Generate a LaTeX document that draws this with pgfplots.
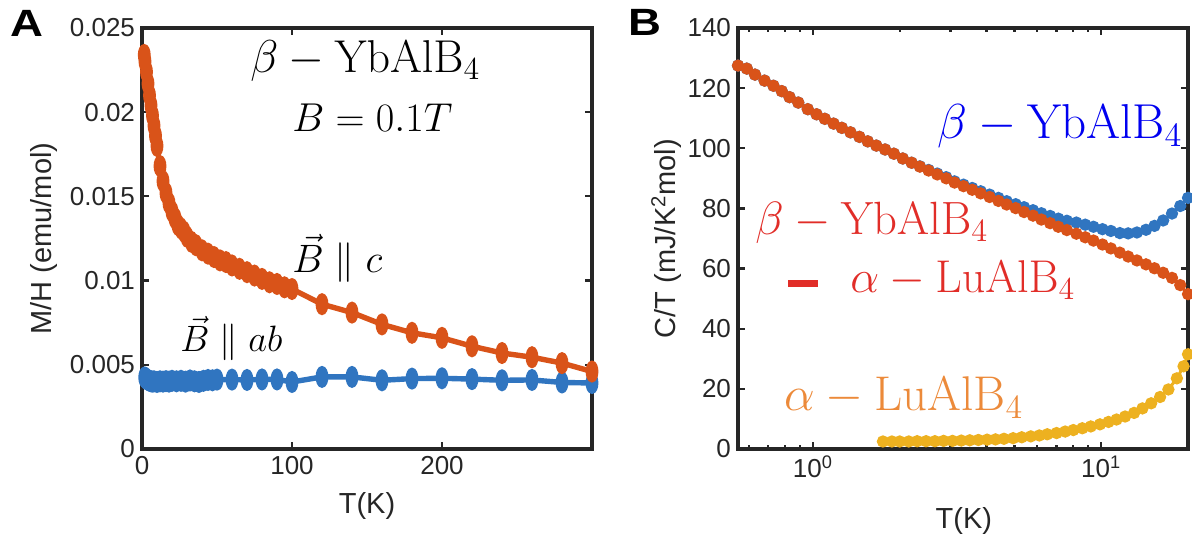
\documentclass[border=0pt]{standalone}
\usepackage[no-math]{fontspec}
\setmainfont{Liberation Sans}
\usepackage{graphicx}
\usepackage{pgfplots}
\pgfplotsset{compat=1.18}

\definecolor{axgray}{RGB}{38,38,38}
\definecolor{mblue}{RGB}{48,117,192}
\definecolor{morange}{RGB}{217,83,25}
\definecolor{myellow}{RGB}{237,177,32}
\definecolor{tblue}{RGB}{0,0,240}
\definecolor{tred}{RGB}{225,45,40}
\definecolor{torange}{RGB}{236,138,58}

\pgfplotsset{
  panel/.style={
    scale only axis, anchor=south west,
    width=225pt, height=210.5pt,
    axis line style={line width=1.8pt, draw=axgray},
    tick align=inside, tick pos=both,
    major tick length=3.5pt, minor tick length=2.2pt,
    every tick/.style={line width=1.1pt, draw=axgray},
    tick label style={font=\fontsize{13}{15}\selectfont, text=axgray},
    label style={font=\fontsize{14.5}{17}\selectfont, text=axgray},
    scaled ticks=false,
  },
  blobline/.style={line width=2.7pt, mark=*, mark size=1.85pt,
    mark options={yscale=2.2, solid}},
  dotline/.style={line width=1.5pt, mark=*, mark size=2.3pt},
}

% math annotation of a given width
\newcommand{\ann}[2]{\resizebox{#1}{!}{\fontsize{20.74}{25}\selectfont$#2$}}

\begin{document}
\begin{tikzpicture}
\useasboundingbox (0pt,0pt) rectangle (596pt,267.5pt);

% ---------- (A) magnetisation ----------
\begin{axis}[panel, at={(71pt,43pt)},
  xmin=0, xmax=300, ymin=0, ymax=0.025,
  xtick={0,100,200}, xticklabels={0,100,200},
  ytick={0,0.005,0.01,0.015,0.02,0.025},
  yticklabels={0,0.005,0.01,0.015,0.02,0.025},
  xlabel={T(K)}, ylabel={M/H (emu/mol)},
  xlabel style={at={(axis description cs:0.5,-0.136)}, anchor=center},
  ylabel style={at={(axis description cs:-0.218,0.5)}, anchor=center},
]
% B || ab
\addplot[blobline, color=mblue] coordinates {
(1.8,0.00425) (2.5,0.00420) (3,0.00415) (4,0.00410) (5,0.00405) (6,0.00402)
(7,0.00400) (8,0.00402) (10,0.00398) (12,0.00402) (14,0.00400) (16,0.00403)
(18,0.00400) (20,0.00405) (23,0.00402) (26,0.00405) (29,0.00400) (32,0.00407)
(35,0.00402) (38,0.00398) (41,0.00405) (44,0.00410) (47,0.00408) (50,0.00412)
(60,0.00412) (70,0.00410) (80,0.00413) (90,0.00413) (100,0.00398)
(120,0.00428) (140,0.00428) (160,0.00408) (180,0.00418) (200,0.00420)
(220,0.00415) (240,0.00408) (260,0.00410) (280,0.00395) (300,0.00392)
};
% B || c
\addplot[blobline, color=morange] coordinates {
(1.5,0.0234) (2,0.0230) (3,0.0224) (4,0.0217) (5,0.0210) (6,0.0204)
(7,0.0198) (8,0.0192) (9,0.0186) (10,0.0180) (12,0.0168) (14,0.0159)
(16,0.0152) (18,0.0146) (20,0.0141) (22,0.0137) (24,0.0133) (26,0.0131)
(28,0.0129) (30,0.0126) (33,0.0123) (36,0.0121) (40,0.0118) (44,0.0116)
(48,0.0114) (52,0.0112) (56,0.0111) (60,0.0109) (65,0.0107) (70,0.0105)
(75,0.0103) (80,0.0101) (85,0.0099) (90,0.0098) (95,0.0096) (100,0.0095)
(120,0.0086) (140,0.0081) (160,0.0074) (180,0.0069) (200,0.0066)
(220,0.0061) (240,0.0057) (260,0.00545) (280,0.0051) (300,0.0046)
};
\end{axis}

% ---------- (B) specific heat ----------
\begin{axis}[panel, at={(369pt,43pt)},
  xmode=log, xmin=0.55, xmax=20, ymin=0, ymax=140,
  xtick={1,10}, xticklabels={10\textsuperscript{0},10\textsuperscript{1}},
  minor xtick={0.6,0.7,0.8,0.9,2,3,4,5,6,7,8,9,20},
  ytick={0,20,40,60,80,100,120,140},
  yticklabels={0,20,40,60,80,100,120,140},
  xlabel={T(K)}, ylabel={C/T (mJ/K\textsuperscript{2}mol)},
  xlabel style={at={(axis description cs:0.502,-0.171)}, anchor=center},
  ylabel style={at={(axis description cs:-0.159,0.5)}, anchor=center},
]
% beta-YbAlB4
\addplot[dotline, color=mblue] coordinates {
(0.55,127.5) (0.59,126.5) (0.63,124.5) (0.68,122.5) (0.73,120.8) (0.78,119.0)
(0.83,117.0) (0.89,115.2) (0.96,113.0) (1.03,111.3) (1.10,109.8) (1.18,108.2)
(1.26,106.8) (1.35,105.3) (1.45,103.8) (1.55,102.3) (1.66,100.9) (1.78,99.6)
(1.91,98.2) (2.05,96.6) (2.2,95.2) (2.35,94.0) (2.52,92.8) (2.7,91.6)
(2.9,90.4) (3.1,89.0) (3.33,87.9) (3.57,86.8) (3.82,85.7) (4.1,84.6)
(4.4,83.5) (4.7,82.4) (5.05,81.4) (5.4,80.4) (5.8,79.4) (6.2,78.4)
(6.65,77.5) (7.1,76.6) (7.6,75.9) (8.2,75.3) (8.8,74.6) (9.4,73.9)
(10.1,73.1) (10.8,72.5) (11.6,71.8) (12.4,71.7) (13.3,72.0) (14.3,72.9)
(15.3,74.2) (16.4,76.0) (17.6,78.3) (18.8,80.8) (20,83.5)
};
% beta-YbAlB4 minus alpha-LuAlB4
\addplot[dotline, color=morange] coordinates {
(0.55,127.5) (0.59,126.5) (0.63,124.5) (0.68,122.5) (0.73,120.8) (0.78,119.0)
(0.83,117.0) (0.89,115.2) (0.96,113.0) (1.03,111.3) (1.10,109.8) (1.18,108.2)
(1.26,106.8) (1.35,105.3) (1.45,103.8) (1.55,102.3) (1.66,100.9) (1.78,99.6)
(1.91,98.2) (2.05,96.6) (2.2,95.2) (2.35,93.9) (2.52,92.6) (2.7,91.3)
(2.9,90.0) (3.1,88.6) (3.33,87.4) (3.57,86.2) (3.82,85.0) (4.1,83.8)
(4.4,82.5) (4.7,81.3) (5.05,80.1) (5.4,78.8) (5.8,77.6) (6.2,76.3)
(6.65,75.1) (7.1,73.9) (7.6,72.8) (8.2,71.6) (8.8,70.4) (9.4,69.3)
(10.1,68.0) (10.8,66.7) (11.6,65.3) (12.4,64.0) (13.3,62.7) (14.3,61.4)
(15.3,60.1) (16.4,58.6) (17.6,56.9) (18.8,54.5) (20,51.5)
};
% alpha-LuAlB4
\addplot[dotline, color=myellow] coordinates {
(1.75,2.5) (1.88,2.5) (2.0,2.5) (2.15,2.5) (2.3,2.6) (2.47,2.6) (2.65,2.6)
(2.84,2.7) (3.05,2.7) (3.27,2.8) (3.5,2.9) (3.75,3.0) (4.02,3.1) (4.3,3.2)
(4.6,3.4) (4.95,3.6) (5.3,3.9) (5.7,4.2) (6.1,4.5) (6.5,4.9) (7.0,5.3)
(7.5,5.8) (8.0,6.3) (8.6,6.9) (9.2,7.5) (9.9,8.2) (10.6,9.0) (11.3,9.8)
(12.1,10.8) (13.0,12.0) (13.9,13.5) (14.9,15.2) (16.0,17.3) (17.1,19.8)
(18.3,23.5) (19.3,27.5) (20,31.5)
};
\end{axis}

% panel letters
\node[font=\fontsize{19}{22}\selectfont\bfseries] at (13.5pt,255.75pt) {\scalebox{1.2}[1]{A}};
\node[font=\fontsize{19}{22}\selectfont\bfseries] at (322.25pt,256.25pt) {\scalebox{1.2}[1]{B}};

% annotations, panel A
\node[anchor=base west, inner sep=0pt] at (125pt,231pt) {\ann{115pt}{\beta-\mathrm{YbAlB}_4}};
\node[anchor=base west, inner sep=0pt] at (146pt,201.5pt) {\ann{80pt}{B=0.1T}};
\node[anchor=base west, inner sep=0pt] at (146pt,131pt) {\ann{45pt}{\vec{B}\parallel c}};
\node[anchor=base west, inner sep=0pt] at (90pt,91.7pt) {\ann{51pt}{\vec{B}\parallel ab}};

% annotations, panel B
\node[anchor=base west, inner sep=0pt, text=tblue] at (468.5pt,198pt) {\ann{122.5pt}{\beta-\mathrm{YbAlB}_4}};
\node[anchor=base west, inner sep=0pt, text=tred] at (377.5pt,150pt) {\ann{116.5pt}{\beta-\mathrm{YbAlB}_4}};
\node[anchor=west, inner sep=0pt, text=tred] at (394pt,125.5pt) {\rule{15pt}{3.5pt}};
\node[anchor=base west, inner sep=0pt, text=tred] at (425pt,121pt) {\ann{112.5pt}{\alpha-\mathrm{LuAlB}_4}};
\node[anchor=base west, inner sep=0pt, text=torange] at (392pt,62pt) {\ann{119.5pt}{\alpha-\mathrm{LuAlB}_4}};
\end{tikzpicture}
\end{document}
